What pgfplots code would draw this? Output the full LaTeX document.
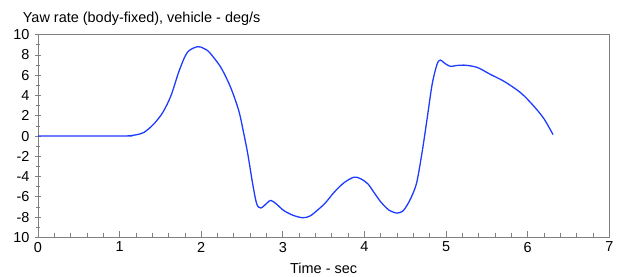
\documentclass[border=0pt]{standalone}
\usepackage{fontspec}
\setmainfont{Liberation Sans}
\usepackage{pgfplots}
\pgfplotsset{compat=1.18}
\definecolor{curve}{RGB}{30,60,255}
\definecolor{axgray}{RGB}{128,128,128}
\begin{document}
\begin{tikzpicture}[x=1bp,y=1bp]
\begin{axis}[
  name=ax,
  scale only axis,
  width=571bp, height=202.6bp,
  xmin=0, xmax=7, ymin=-10, ymax=10,
  xtick={0,1,...,7},
  minor x tick num=4,
  ytick={-10,-8,...,10},
  yticklabels={10,-8,-6,-4,-2,0,2,4,6,8,10},
  minor y tick num=1,
  xtick pos=bottom, ytick pos=left,
  xtick align=inside,
  ytick align=center,
  major tick length=6bp, minor tick length=4bp,
  every tick/.style={axgray, line width=0.8bp},
  axis line style={axgray, line width=0.9bp},
  ticklabel style={font=\fontsize{14.5}{16}\selectfont, text=black},
  /pgf/number format/assume math mode=true,
  xticklabel style={yshift=-1bp},
  yticklabel style={xshift=-2bp},
  xlabel={Time - sec},
  xlabel style={font=\fontsize{14.5}{16}\selectfont, yshift=-4bp},
  clip=false,
]
\addplot[curve, line width=1.3bp, smooth, tension=0.5] coordinates {
(0,0) (1.0,0) (1.1,0.02) (1.2,0.12) (1.30,0.37) (1.42,1.2) (1.53,2.35) (1.63,4.0) (1.73,6.45) (1.83,8.26) (1.955,8.82) (2.03,8.65) (2.10,8.26) (2.24,6.78) (2.36,4.8) (2.46,2.5) (2.52,0.3) (2.57,-1.75) (2.63,-4.7) (2.68,-6.7) (2.73,-7.1) (2.78,-6.8) (2.85,-6.35) (2.92,-6.7) (3.01,-7.34) (3.12,-7.8) (3.24,-8.06) (3.33,-7.9) (3.42,-7.34) (3.52,-6.6) (3.63,-5.53) (3.75,-4.6) (3.87,-4.06) (3.95,-4.2) (4.04,-4.7) (4.12,-5.6) (4.20,-6.5) (4.30,-7.3) (4.40,-7.6) (4.47,-7.4) (4.52,-6.85) (4.57,-6.1) (4.64,-4.6) (4.71,-1.4) (4.77,1.85) (4.83,5.14) (4.89,7.1) (4.93,7.5) (4.98,7.2) (5.05,6.88) (5.12,6.95) (5.22,7.0) (5.38,6.78) (5.54,6.1) (5.71,5.4) (5.91,4.3) (6.07,3.0) (6.20,1.7) (6.31,0.15)
};
\end{axis}
\node[anchor=base west, inner sep=0pt, font=\fontsize{14.5}{16}\selectfont] at ([xshift=-15.3bp, yshift=12bp]ax.north west) {Yaw rate (body-fixed), vehicle - deg/s};
\pgfresetboundingbox
\path[use as bounding box] ([xshift=-38bp, yshift=-38.7bp]ax.south west) rectangle ([xshift=9.7bp, yshift=34.7bp]ax.north east);
\end{tikzpicture}
\end{document}
